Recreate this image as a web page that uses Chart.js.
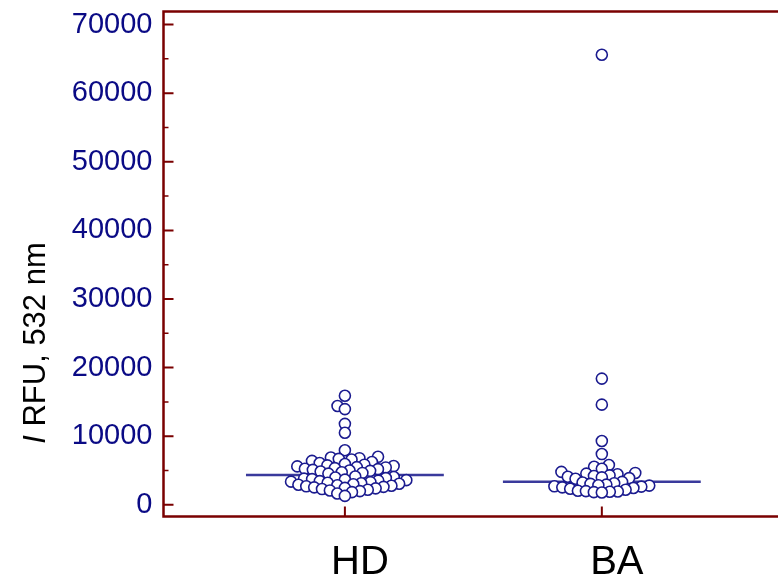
<!DOCTYPE html>
<html>
<head>
<meta charset="utf-8">
<title>Dot plot HD / BA</title>
<script src="https://cdn.jsdelivr.net/npm/chart.js@4.4.1/dist/chart.umd.min.js"></script>
<style>
  html, body { margin: 0; padding: 0; background: #fff; }
  #wrap { width: 778px; height: 580px; }
</style>
</head>
<body>
<div id="wrap"><canvas id="dotplot" width="778" height="580"></canvas></div>
<script>
// ---------- data ----------
const GROUPS = ['HD', 'BA'];

const HD_VALUES = [
  15900, 14400, 13950, 11800, 10500, 7950,
  7000, 6900, 6800, 6700, 6600, 6400, 6250, 6100, 5950, 5850,
  5750, 5650, 5600, 5500, 5450, 5350, 5250, 5200, 5100, 5000,
  4950, 4850, 4750, 4650, 4550,
  4130, 4050, 3980, 3900, 3820, 3750, 3680, 3600, 3520, 3450,
  3380, 3300, 3220, 3150, 3080, 3000, 2920, 2850, 2780, 2700,
  2620, 2550, 2470, 2400, 2300, 2200, 2100, 2000, 1850, 1650,
  1300
];

const BA_VALUES = [
  65600, 18400, 14600, 9300, 7400,
  5800, 5550, 5250, 4800, 4650, 4550, 4450, 4300, 4200, 4100, 4000, 3900, 3800,
  3350,
  3250, 3150, 3050, 2950, 2850, 2800, 2700, 2650, 2550, 2450, 2350, 2200,
  2050, 2000, 1950, 1900, 1850, 1800
];

const Y_TICKS = [0, 10000, 20000, 30000, 40000, 50000, 60000, 70000];
const Y_MINOR = [5000, 15000, 25000, 35000, 45000, 55000, 65000];
const Y_MIN = -1700, Y_MAX = 71900;
const X_MIN = 0.294, X_MAX = 2.658;

// ---------- look ----------
const AXIS_COLOR = '#7a0000';
const TICK_COLOR = '#0a0a85';
const DOT_COLOR = '#1b1b8f';
const MEDIAN_COLOR = '#3a3a9c';
const FONT = '"Liberation Sans", Arial, sans-serif';
const MEDIAN_HALF = 0.385;   // half length of the median bar, in category units
const DOT_GAP = 8;           // min distance between dot centres, px (dots may overlap)

// ---------- helpers ----------
function median(arr){
  const s = arr.slice().sort((a,b)=>a-b);
  const m = Math.floor((s.length-1)/2);
  return s.length % 2 ? s[m] : (s[m] + s[m+1]) / 2;
}

// simple beeswarm: place dots low to high, each as close to the centre as it fits
function swarmOffsets(py, gap){
  const order = py.map((_, i) => i).sort((a, b) => py[b] - py[a]);
  const placed = [];
  const out = new Array(py.length).fill(0);
  for (const i of order){
    const y = py[i];
    const bounds = [];
    for (const p of placed){
      const dy = Math.abs(p.y - y);
      if (dy < gap){ const w = Math.sqrt(gap*gap - dy*dy); bounds.push([p.x - w, p.x + w]); }
    }
    const cands = [0];
    bounds.forEach(b => cands.push(b[0], b[1]));
    cands.sort((a, b) => Math.abs(a) - Math.abs(b));
    let x = 0;
    for (const c of cands){
      if (bounds.every(b => c <= b[0] + 1e-6 || c >= b[1] - 1e-6)){ x = c; break; }
    }
    placed.push({ x, y });
    out[i] = x;
  }
  return out;
}

function dotSet(vals, g){
  return {
    type: 'scatter',
    data: vals.map(v => ({ x: g + 1, y: v })),
    pointRadius: 5.5,
    pointHoverRadius: 5.5,
    borderWidth: 1.6,
    borderColor: DOT_COLOR,
    backgroundColor: '#ffffff',
    order: 1
  };
}

function medianSet(vals, g){
  const m = median(vals);
  return {
    type: 'line',
    data: [{ x: g + 1 - MEDIAN_HALF, y: m }, { x: g + 1 + MEDIAN_HALF, y: m }],
    borderColor: MEDIAN_COLOR,
    borderWidth: 2.5,
    pointRadius: 0,
    showLine: true,
    order: 2
  };
}

// frame, inward ticks and the y title
const framePlugin = {
  id: 'frame',
  beforeDatasetsDraw(chart){
    const { ctx, chartArea: a, scales: { x, y } } = chart;
    ctx.save();
    ctx.strokeStyle = AXIS_COLOR;
    ctx.lineCap = 'butt';

    ctx.lineWidth = 2.5;
    ctx.beginPath();
    ctx.moveTo(chart.width, a.top); ctx.lineTo(a.left, a.top);
    ctx.lineTo(a.left, a.bottom); ctx.lineTo(chart.width, a.bottom);
    ctx.stroke();

    ctx.lineWidth = 2;
    ctx.beginPath();
    Y_TICKS.forEach(v => {
      const py = y.getPixelForValue(v);
      ctx.moveTo(a.left, py); ctx.lineTo(a.left + 10, py);
    });
    GROUPS.forEach((_, i) => {
      const px = x.getPixelForValue(i + 1);
      ctx.moveTo(px, a.bottom); ctx.lineTo(px, a.bottom - 10);
    });
    ctx.stroke();

    ctx.lineWidth = 1.5;
    ctx.beginPath();
    Y_MINOR.forEach(v => {
      const py = y.getPixelForValue(v);
      ctx.moveTo(a.left, py); ctx.lineTo(a.left + 5, py);
    });
    ctx.stroke();
    ctx.restore();
  },
  afterDraw(chart){
    const ctx = chart.ctx;
    const italic = 'italic 31px ' + FONT;
    const upright = '31px ' + FONT;
    const head = 'I', tail = ' RFU, 532 nm';
    ctx.save();
    ctx.font = italic; const w1 = ctx.measureText(head).width;
    ctx.font = upright; const w2 = ctx.measureText(tail).width;
    ctx.translate(36, 343);
    ctx.rotate(-Math.PI / 2);
    ctx.fillStyle = '#000';
    ctx.textBaseline = 'middle';
    ctx.textAlign = 'left';
    const x0 = -(w1 + w2) / 2;
    ctx.font = italic; ctx.fillText(head, x0, 0);
    ctx.font = upright; ctx.fillText(tail, x0 + w1, 0);
    ctx.restore();
  }
};

const chart = new Chart(document.getElementById('dotplot').getContext('2d'), {
  type: 'scatter',
  data: {
    datasets: [
      dotSet(HD_VALUES, 0), dotSet(BA_VALUES, 1),
      medianSet(HD_VALUES, 0), medianSet(BA_VALUES, 1)
    ]
  },
  options: {
    responsive: false,
    animation: false,
    layout: { padding: { top: 11.5, left: 0, right: 0, bottom: 0 } },
    plugins: { legend: { display: false }, tooltip: { enabled: false } },
    scales: {
      x: {
        type: 'linear', min: X_MIN, max: X_MAX,
        grid: { display: false, drawTicks: false },
        border: { display: false },
        afterBuildTicks: s => { s.ticks = GROUPS.map((_, i) => ({ value: i + 1 })); },
        afterFit: s => { s.height = 63.5; s.paddingLeft = 0; s.paddingRight = 0; },
        ticks: {
          color: '#000', padding: 22, autoSkip: false, maxRotation: 0,
          labelOffset: 15,
          font: { family: FONT, size: 40 },
          callback: v => GROUPS[v - 1]
        }
      },
      y: {
        type: 'linear', min: Y_MIN, max: Y_MAX,
        grid: { display: false, drawTicks: false },
        border: { display: false },
        afterBuildTicks: s => { s.ticks = Y_TICKS.map(v => ({ value: v })); },
        afterFit: s => { s.width = 163.5; s.paddingTop = 0; s.paddingBottom = 0; },
        ticks: {
          color: TICK_COLOR, padding: 11,
          font: { family: FONT, size: 29 },
          callback: v => String(v)
        }
      }
    }
  },
  plugins: [framePlugin]
});

// spread the dots sideways once the scales are known
(function layoutSwarm(){
  const xs = chart.scales.x, ys = chart.scales.y;
  const pxPerUnit = xs.getPixelForValue(1) - xs.getPixelForValue(0);
  [HD_VALUES, BA_VALUES].forEach((vals, g) => {
    const dx = swarmOffsets(vals.map(v => ys.getPixelForValue(v)), DOT_GAP);
    chart.data.datasets[g].data = vals.map((v, i) => ({ x: g + 1 + dx[i] / pxPerUnit, y: v }));
  });
  chart.update('none');
})();
</script>
</body>
</html>
